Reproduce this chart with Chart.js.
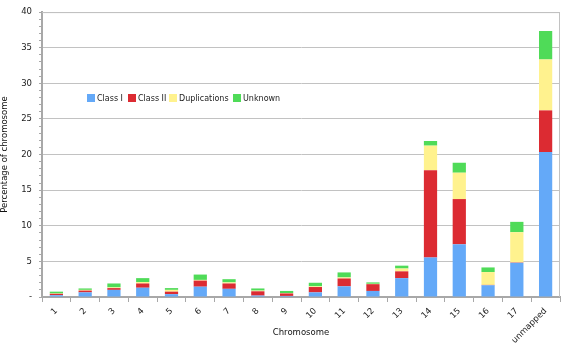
<!DOCTYPE html>
<html>
<head>
<meta charset="utf-8">
<script src="https://cdn.jsdelivr.net/npm/chart.js@4"></script>
<style>
  html, body { margin: 0; padding: 0; background: #fff; }
  #wrap { width: 563px; height: 345px; }
</style>
</head>
<body>
<div id="wrap"><canvas id="chart" width="563" height="345"></canvas></div>
<script>
/* --------------- Data --------------------- */
const chromosomes = ["1", "2", "3", "4", "5", "6", "7", "8", "9", "10", "11", "12", "13", "14", "15", "16", "17", "unmapped"];
const classI       = [0.25, 0.65, 1.0, 1.3, 0.4, 1.45, 1.15, 0.2, 0.15, 0.65, 1.5, 0.85, 2.65, 5.55, 7.4, 1.65, 4.8, 20.35];
const classII      = [0.2, 0.25, 0.25, 0.6, 0.35, 0.85, 0.75, 0.6, 0.35, 0.75, 1.1, 0.95, 0.95, 12.25, 6.35, 0.05, 0.05, 5.85];
const duplications = [0.05, 0.1, 0.1, 0.2, 0.25, 0.1, 0.15, 0.1, 0.05, 0.1, 0.15, 0.05, 0.4, 3.45, 3.7, 1.8, 4.25, 7.15];
const unknown      = [0.25, 0.2, 0.55, 0.55, 0.25, 0.75, 0.45, 0.3, 0.3, 0.5, 0.7, 0.2, 0.4, 0.65, 1.4, 0.65, 1.45, 4.0];

const FONT = "DejaVu Sans";
const gridGray = "#c2c2c2";
const axisGray = "#a8a8a8";

/* --------------- Legend drawn inside the plot --------------------- */
const legendX = [87, 128, 169, 233];
const innerLegend = {
  id: "innerLegend",
  afterDraw(chart) {
    const ctx = chart.ctx;
    ctx.save();
    ctx.font = "8px '" + FONT + "'";
    ctx.textBaseline = "middle";
    chart.data.datasets.forEach((ds, i) => {
      ctx.fillStyle = ds.backgroundColor;
      ctx.fillRect(legendX[i], 94, 8, 8);
      ctx.fillStyle = "#222";
      ctx.fillText(ds.label, legendX[i] + 10, 98.5);
    });
    ctx.restore();
  },
};

/* --------------- Box round the plot --------------------- */
const plotBox = {
  id: "plotBox",
  beforeDatasetsDraw(chart) {
    const a = chart.chartArea;
    const ctx = chart.ctx;
    ctx.save();
    ctx.strokeStyle = gridGray;
    ctx.lineWidth = 1;
    ctx.beginPath();
    ctx.moveTo(a.left, a.top + 0.5);
    ctx.lineTo(a.right - 0.5, a.top + 0.5);
    ctx.lineTo(a.right - 0.5, a.bottom);
    ctx.stroke();
    ctx.restore();
  },
};

/* --------------- Chart --------------------- */
new Chart(document.getElementById("chart"), {
  type: "bar",
  plugins: [plotBox, innerLegend],
  data: {
    labels: chromosomes,
    datasets: [
      { label: "Class I", data: classI, backgroundColor: "#64a9f8" },
      { label: "Class II", data: classII, backgroundColor: "#dc2b32" },
      { label: "Duplications", data: duplications, backgroundColor: "#fff28e" },
      { label: "Unknown", data: unknown, backgroundColor: "#4fdb58" },
    ],
  },
  options: {
    responsive: false,
    animation: false,
    layout: { padding: { top: 6, right: 3, left: 0, bottom: 0 } },
    datasets: { bar: { categoryPercentage: 1, barPercentage: 0.46 } },
    plugins: {
      legend: { display: false },
      tooltip: { enabled: false },
    },
    scales: {
      x: {
        stacked: true,
        afterFit: (s) => { s.height = 48; },
        grid: { drawOnChartArea: false, drawTicks: true, tickLength: 5, color: axisGray, offset: true },
        border: { color: axisGray, width: 2 },
        ticks: {
          color: "#222",
          font: { family: FONT, size: 8.5 },
          minRotation: 45,
          maxRotation: 45,
          autoSkip: false,
          padding: 4,
        },
        title: {
          display: true,
          text: "Chromosome",
          color: "#111",
          font: { family: FONT, size: 8.5 },
          padding: { top: 0, bottom: 7 },
        },
      },
      y: {
        stacked: true,
        min: 0,
        max: 40,
        afterFit: (s) => { s.width = 42; },
        grid: {
          color: (c) => (c.tick && c.tick.value % 5 === 0 && c.tick.value !== 0 ? gridGray : "rgba(0,0,0,0)"),
          tickColor: axisGray,
          tickLength: 3,
          drawTicks: true,
        },
        border: { color: axisGray, width: 2 },
        ticks: {
          stepSize: 1,
          autoSkip: false,
          color: "#222",
          font: { family: FONT, size: 8.5 },
          padding: 7,
          callback: (v) => (v === 0 ? "-" : v % 5 === 0 ? v : ""),
        },
        title: {
          display: true,
          text: "Percentage of chromosome",
          color: "#111",
          font: { family: FONT, size: 8.5 },
          padding: { top: 0, bottom: 2 },
        },
      },
    },
  },
});
</script>
</body>
</html>
